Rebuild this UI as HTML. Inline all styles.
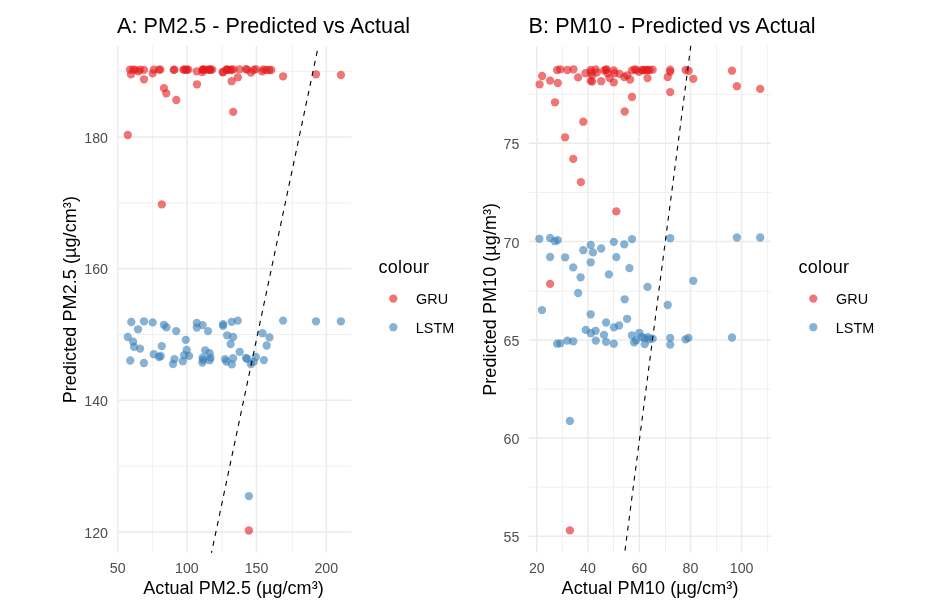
<!DOCTYPE html>
<html lang="en"><head><meta charset="utf-8"><title>Predicted vs Actual</title>
<style>html,body{margin:0;padding:0;background:#fff}svg{display:block}text{font-family:"Liberation Sans",Arial,Helvetica,sans-serif}</style>
</head><body>
<svg width="929" height="601" viewBox="0 0 929 601">
<rect width="929" height="601" fill="#ffffff"/>
<clipPath id="ca"><rect x="117.1" y="45.8" width="234.5" height="507.0"/></clipPath>
<g clip-path="url(#ca)" fill="none" stroke="#EBEBEB">
<line x1="117.1" x2="351.6" y1="71.3" y2="71.3" stroke-width="0.75"/>
<line x1="117.1" x2="351.6" y1="202.9" y2="202.9" stroke-width="0.75"/>
<line x1="117.1" x2="351.6" y1="334.5" y2="334.5" stroke-width="0.75"/>
<line x1="117.1" x2="351.6" y1="466.1" y2="466.1" stroke-width="0.75"/>
<line x1="152.4" x2="152.4" y1="45.8" y2="552.8" stroke-width="0.75"/>
<line x1="222.1" x2="222.1" y1="45.8" y2="552.8" stroke-width="0.75"/>
<line x1="292.4" x2="292.4" y1="45.8" y2="552.8" stroke-width="0.75"/>
<line x1="117.1" x2="351.6" y1="137.1" y2="137.1" stroke-width="1.5"/>
<line x1="117.1" x2="351.6" y1="268.7" y2="268.7" stroke-width="1.5"/>
<line x1="117.1" x2="351.6" y1="400.3" y2="400.3" stroke-width="1.5"/>
<line x1="117.1" x2="351.6" y1="531.9" y2="531.9" stroke-width="1.5"/>
<line x1="117.7" x2="117.7" y1="45.8" y2="552.8" stroke-width="1.5"/>
<line x1="186.9" x2="186.9" y1="45.8" y2="552.8" stroke-width="1.5"/>
<line x1="256.5" x2="256.5" y1="45.8" y2="552.8" stroke-width="1.5"/>
<line x1="326.3" x2="326.3" y1="45.8" y2="552.8" stroke-width="1.5"/>
</g>
<clipPath id="cb"><rect x="528.6" y="45.8" width="242.4" height="507.0"/></clipPath>
<g clip-path="url(#cb)" fill="none" stroke="#EBEBEB">
<line x1="528.6" x2="771.0" y1="94.3" y2="94.3" stroke-width="0.75"/>
<line x1="528.6" x2="771.0" y1="192.5" y2="192.5" stroke-width="0.75"/>
<line x1="528.6" x2="771.0" y1="291.2" y2="291.2" stroke-width="0.75"/>
<line x1="528.6" x2="771.0" y1="389.0" y2="389.0" stroke-width="0.75"/>
<line x1="528.6" x2="771.0" y1="487.2" y2="487.2" stroke-width="0.75"/>
<line x1="562.4" x2="562.4" y1="45.8" y2="552.8" stroke-width="0.75"/>
<line x1="613.5" x2="613.5" y1="45.8" y2="552.8" stroke-width="0.75"/>
<line x1="665.5" x2="665.5" y1="45.8" y2="552.8" stroke-width="0.75"/>
<line x1="716.5" x2="716.5" y1="45.8" y2="552.8" stroke-width="0.75"/>
<line x1="767.6" x2="767.6" y1="45.8" y2="552.8" stroke-width="0.75"/>
<line x1="528.6" x2="771.0" y1="143.3" y2="143.3" stroke-width="1.5"/>
<line x1="528.6" x2="771.0" y1="241.4" y2="241.4" stroke-width="1.5"/>
<line x1="528.6" x2="771.0" y1="340.0" y2="340.0" stroke-width="1.5"/>
<line x1="528.6" x2="771.0" y1="438.0" y2="438.0" stroke-width="1.5"/>
<line x1="528.6" x2="771.0" y1="536.3" y2="536.3" stroke-width="1.5"/>
<line x1="536.8" x2="536.8" y1="45.8" y2="552.8" stroke-width="1.5"/>
<line x1="588.0" x2="588.0" y1="45.8" y2="552.8" stroke-width="1.5"/>
<line x1="639.3" x2="639.3" y1="45.8" y2="552.8" stroke-width="1.5"/>
<line x1="690.5" x2="690.5" y1="45.8" y2="552.8" stroke-width="1.5"/>
<line x1="741.6" x2="741.6" y1="45.8" y2="552.8" stroke-width="1.5"/>
</g>
<g clip-path="url(#ca)" fill="#E41A1C" fill-opacity="0.6">
<circle cx="130.0" cy="69.6" r="4.15"/>
<circle cx="133.1" cy="69.6" r="4.15"/>
<circle cx="135.2" cy="69.8" r="4.15"/>
<circle cx="140.1" cy="69.6" r="4.15"/>
<circle cx="144.0" cy="69.9" r="4.15"/>
<circle cx="153.8" cy="69.6" r="4.15"/>
<circle cx="160.4" cy="69.6" r="4.15"/>
<circle cx="173.7" cy="69.9" r="4.15"/>
<circle cx="183.5" cy="69.6" r="4.15"/>
<circle cx="186.3" cy="69.8" r="4.15"/>
<circle cx="188.4" cy="69.6" r="4.15"/>
<circle cx="196.8" cy="71.3" r="4.15"/>
<circle cx="203.1" cy="69.6" r="4.15"/>
<circle cx="205.4" cy="69.6" r="4.15"/>
<circle cx="210.1" cy="69.6" r="4.15"/>
<circle cx="212.2" cy="69.6" r="4.15"/>
<circle cx="222.7" cy="72.0" r="4.15"/>
<circle cx="226.2" cy="69.6" r="4.15"/>
<circle cx="227.1" cy="69.7" r="4.15"/>
<circle cx="230.3" cy="69.7" r="4.15"/>
<circle cx="231.3" cy="70.0" r="4.15"/>
<circle cx="233.4" cy="69.3" r="4.15"/>
<circle cx="239.5" cy="69.4" r="4.15"/>
<circle cx="131.0" cy="74.4" r="4.15"/>
<circle cx="138.4" cy="71.3" r="4.15"/>
<circle cx="144.0" cy="79.3" r="4.15"/>
<circle cx="152.7" cy="73.4" r="4.15"/>
<circle cx="163.9" cy="88.1" r="4.15"/>
<circle cx="166.3" cy="93.3" r="4.15"/>
<circle cx="176.3" cy="100.0" r="4.15"/>
<circle cx="197.0" cy="84.3" r="4.15"/>
<circle cx="202.4" cy="72.0" r="4.15"/>
<circle cx="231.7" cy="81.2" r="4.15"/>
<circle cx="237.9" cy="77.3" r="4.15"/>
<circle cx="233.2" cy="111.9" r="4.15"/>
<circle cx="246.0" cy="69.1" r="4.15"/>
<circle cx="250.9" cy="72.5" r="4.15"/>
<circle cx="253.7" cy="70.0" r="4.15"/>
<circle cx="255.8" cy="69.1" r="4.15"/>
<circle cx="262.1" cy="71.4" r="4.15"/>
<circle cx="263.5" cy="69.4" r="4.15"/>
<circle cx="266.3" cy="70.0" r="4.15"/>
<circle cx="269.1" cy="70.0" r="4.15"/>
<circle cx="271.2" cy="70.0" r="4.15"/>
<circle cx="283.1" cy="76.3" r="4.15"/>
<circle cx="316.0" cy="74.3" r="4.15"/>
<circle cx="340.9" cy="75.0" r="4.15"/>
<circle cx="127.8" cy="135.0" r="4.15"/>
<circle cx="161.8" cy="204.4" r="4.15"/>
<circle cx="248.9" cy="530.5" r="4.15"/>
<circle cx="159.0" cy="69.6" r="4.15"/>
<circle cx="174.4" cy="69.6" r="4.15"/>
<circle cx="184.2" cy="69.6" r="4.15"/>
<circle cx="186.7" cy="69.6" r="4.15"/>
<circle cx="202.6" cy="69.6" r="4.15"/>
<circle cx="203.1" cy="69.6" r="4.15"/>
<circle cx="208.0" cy="69.6" r="4.15"/>
<circle cx="209.6" cy="69.6" r="4.15"/>
<circle cx="210.5" cy="69.6" r="4.15"/>
<circle cx="223.0" cy="72.2" r="4.15"/>
<circle cx="227.2" cy="69.6" r="4.15"/>
<circle cx="247.1" cy="69.6" r="4.15"/>
</g>
<g clip-path="url(#ca)" fill="#377EB8" fill-opacity="0.6">
<circle cx="131.3" cy="322.0" r="4.15"/>
<circle cx="144.0" cy="321.3" r="4.15"/>
<circle cx="152.7" cy="322.4" r="4.15"/>
<circle cx="138.0" cy="329.3" r="4.15"/>
<circle cx="163.9" cy="324.8" r="4.15"/>
<circle cx="166.4" cy="327.3" r="4.15"/>
<circle cx="176.2" cy="331.1" r="4.15"/>
<circle cx="196.8" cy="323.0" r="4.15"/>
<circle cx="196.8" cy="327.6" r="4.15"/>
<circle cx="202.6" cy="325.1" r="4.15"/>
<circle cx="208.0" cy="331.1" r="4.15"/>
<circle cx="223.1" cy="324.1" r="4.15"/>
<circle cx="223.1" cy="325.9" r="4.15"/>
<circle cx="231.7" cy="321.8" r="4.15"/>
<circle cx="237.7" cy="320.6" r="4.15"/>
<circle cx="127.8" cy="337.0" r="4.15"/>
<circle cx="133.1" cy="341.6" r="4.15"/>
<circle cx="134.1" cy="346.9" r="4.15"/>
<circle cx="140.1" cy="348.6" r="4.15"/>
<circle cx="161.8" cy="346.1" r="4.15"/>
<circle cx="185.8" cy="339.9" r="4.15"/>
<circle cx="227.2" cy="335.3" r="4.15"/>
<circle cx="233.1" cy="337.0" r="4.15"/>
<circle cx="230.6" cy="344.0" r="4.15"/>
<circle cx="239.7" cy="351.9" r="4.15"/>
<circle cx="153.8" cy="354.2" r="4.15"/>
<circle cx="159.0" cy="357.0" r="4.15"/>
<circle cx="160.7" cy="356.0" r="4.15"/>
<circle cx="130.3" cy="360.5" r="4.15"/>
<circle cx="143.9" cy="363.0" r="4.15"/>
<circle cx="174.4" cy="359.1" r="4.15"/>
<circle cx="173.0" cy="364.0" r="4.15"/>
<circle cx="182.8" cy="361.2" r="4.15"/>
<circle cx="184.2" cy="355.2" r="4.15"/>
<circle cx="186.7" cy="350.0" r="4.15"/>
<circle cx="189.1" cy="355.9" r="4.15"/>
<circle cx="205.2" cy="350.3" r="4.15"/>
<circle cx="209.6" cy="353.2" r="4.15"/>
<circle cx="202.6" cy="357.7" r="4.15"/>
<circle cx="203.1" cy="359.8" r="4.15"/>
<circle cx="202.4" cy="362.6" r="4.15"/>
<circle cx="210.5" cy="357.7" r="4.15"/>
<circle cx="209.6" cy="360.2" r="4.15"/>
<circle cx="225.0" cy="359.1" r="4.15"/>
<circle cx="226.4" cy="361.5" r="4.15"/>
<circle cx="233.1" cy="358.2" r="4.15"/>
<circle cx="231.8" cy="364.4" r="4.15"/>
<circle cx="283.1" cy="320.6" r="4.15"/>
<circle cx="316.0" cy="321.3" r="4.15"/>
<circle cx="340.9" cy="321.3" r="4.15"/>
<circle cx="262.5" cy="333.2" r="4.15"/>
<circle cx="269.5" cy="337.4" r="4.15"/>
<circle cx="266.7" cy="345.5" r="4.15"/>
<circle cx="246.0" cy="358.0" r="4.15"/>
<circle cx="247.1" cy="358.8" r="4.15"/>
<circle cx="255.8" cy="357.0" r="4.15"/>
<circle cx="253.7" cy="361.9" r="4.15"/>
<circle cx="250.9" cy="364.0" r="4.15"/>
<circle cx="263.9" cy="360.1" r="4.15"/>
<circle cx="248.9" cy="496.1" r="4.15"/>
</g>
<g clip-path="url(#cb)" fill="#E41A1C" fill-opacity="0.6">
<circle cx="539.6" cy="84.4" r="4.15"/>
<circle cx="542.1" cy="76.0" r="4.15"/>
<circle cx="550.1" cy="80.6" r="4.15"/>
<circle cx="557.8" cy="83.0" r="4.15"/>
<circle cx="557.1" cy="70.0" r="4.15"/>
<circle cx="560.3" cy="69.3" r="4.15"/>
<circle cx="567.3" cy="70.0" r="4.15"/>
<circle cx="573.5" cy="69.3" r="4.15"/>
<circle cx="578.1" cy="77.4" r="4.15"/>
<circle cx="585.5" cy="73.2" r="4.15"/>
<circle cx="590.7" cy="72.5" r="4.15"/>
<circle cx="592.1" cy="75.3" r="4.15"/>
<circle cx="590.7" cy="80.9" r="4.15"/>
<circle cx="592.1" cy="81.6" r="4.15"/>
<circle cx="595.6" cy="69.3" r="4.15"/>
<circle cx="596.7" cy="72.5" r="4.15"/>
<circle cx="601.2" cy="81.2" r="4.15"/>
<circle cx="604.0" cy="70.4" r="4.15"/>
<circle cx="606.5" cy="69.3" r="4.15"/>
<circle cx="607.5" cy="73.2" r="4.15"/>
<circle cx="609.6" cy="78.1" r="4.15"/>
<circle cx="613.8" cy="70.4" r="4.15"/>
<circle cx="614.5" cy="73.2" r="4.15"/>
<circle cx="613.8" cy="82.3" r="4.15"/>
<circle cx="619.6" cy="73.9" r="4.15"/>
<circle cx="624.3" cy="77.0" r="4.15"/>
<circle cx="627.1" cy="75.3" r="4.15"/>
<circle cx="630.1" cy="79.5" r="4.15"/>
<circle cx="632.0" cy="70.4" r="4.15"/>
<circle cx="634.8" cy="69.3" r="4.15"/>
<circle cx="639.0" cy="71.8" r="4.15"/>
<circle cx="643.2" cy="70.4" r="4.15"/>
<circle cx="646.5" cy="70.2" r="4.15"/>
<circle cx="649.6" cy="70.0" r="4.15"/>
<circle cx="652.7" cy="69.7" r="4.15"/>
<circle cx="647.5" cy="78.1" r="4.15"/>
<circle cx="555.0" cy="102.3" r="4.15"/>
<circle cx="632.0" cy="97.0" r="4.15"/>
<circle cx="624.7" cy="111.5" r="4.15"/>
<circle cx="583.3" cy="121.7" r="4.15"/>
<circle cx="670.2" cy="69.7" r="4.15"/>
<circle cx="670.2" cy="71.8" r="4.15"/>
<circle cx="667.7" cy="77.0" r="4.15"/>
<circle cx="670.2" cy="92.1" r="4.15"/>
<circle cx="685.6" cy="70.0" r="4.15"/>
<circle cx="688.7" cy="70.8" r="4.15"/>
<circle cx="693.3" cy="78.8" r="4.15"/>
<circle cx="732.0" cy="70.7" r="4.15"/>
<circle cx="736.9" cy="86.2" r="4.15"/>
<circle cx="760.2" cy="88.9" r="4.15"/>
<circle cx="565.1" cy="137.3" r="4.15"/>
<circle cx="573.2" cy="158.9" r="4.15"/>
<circle cx="580.9" cy="182.1" r="4.15"/>
<circle cx="616.3" cy="211.4" r="4.15"/>
<circle cx="550.1" cy="283.9" r="4.15"/>
<circle cx="569.9" cy="530.4" r="4.15"/>
<circle cx="590.7" cy="69.9" r="4.15"/>
<circle cx="606.1" cy="69.9" r="4.15"/>
<circle cx="636.2" cy="69.9" r="4.15"/>
<circle cx="641.7" cy="69.9" r="4.15"/>
<circle cx="644.7" cy="69.9" r="4.15"/>
<circle cx="648.0" cy="69.9" r="4.15"/>
</g>
<g clip-path="url(#cb)" fill="#377EB8" fill-opacity="0.6">
<circle cx="539.3" cy="238.8" r="4.15"/>
<circle cx="550.1" cy="238.0" r="4.15"/>
<circle cx="555.0" cy="241.2" r="4.15"/>
<circle cx="557.8" cy="240.1" r="4.15"/>
<circle cx="590.7" cy="245.0" r="4.15"/>
<circle cx="583.3" cy="250.2" r="4.15"/>
<circle cx="593.0" cy="252.4" r="4.15"/>
<circle cx="601.2" cy="248.5" r="4.15"/>
<circle cx="613.8" cy="241.9" r="4.15"/>
<circle cx="624.3" cy="244.3" r="4.15"/>
<circle cx="632.0" cy="239.1" r="4.15"/>
<circle cx="550.1" cy="257.0" r="4.15"/>
<circle cx="565.1" cy="257.3" r="4.15"/>
<circle cx="616.3" cy="257.1" r="4.15"/>
<circle cx="590.7" cy="262.3" r="4.15"/>
<circle cx="573.2" cy="267.4" r="4.15"/>
<circle cx="580.6" cy="277.3" r="4.15"/>
<circle cx="608.9" cy="274.4" r="4.15"/>
<circle cx="629.4" cy="268.1" r="4.15"/>
<circle cx="647.5" cy="286.9" r="4.15"/>
<circle cx="578.1" cy="293.0" r="4.15"/>
<circle cx="624.7" cy="299.3" r="4.15"/>
<circle cx="542.0" cy="310.1" r="4.15"/>
<circle cx="590.7" cy="314.3" r="4.15"/>
<circle cx="627.1" cy="318.8" r="4.15"/>
<circle cx="606.1" cy="322.5" r="4.15"/>
<circle cx="619.1" cy="325.5" r="4.15"/>
<circle cx="613.9" cy="327.3" r="4.15"/>
<circle cx="585.8" cy="329.9" r="4.15"/>
<circle cx="595.6" cy="330.8" r="4.15"/>
<circle cx="590.9" cy="333.2" r="4.15"/>
<circle cx="604.0" cy="334.9" r="4.15"/>
<circle cx="557.1" cy="343.7" r="4.15"/>
<circle cx="560.3" cy="343.3" r="4.15"/>
<circle cx="567.3" cy="340.6" r="4.15"/>
<circle cx="573.2" cy="341.3" r="4.15"/>
<circle cx="595.8" cy="340.6" r="4.15"/>
<circle cx="606.1" cy="341.9" r="4.15"/>
<circle cx="613.8" cy="343.7" r="4.15"/>
<circle cx="632.0" cy="335.3" r="4.15"/>
<circle cx="639.4" cy="332.8" r="4.15"/>
<circle cx="634.1" cy="342.3" r="4.15"/>
<circle cx="636.2" cy="340.2" r="4.15"/>
<circle cx="641.7" cy="337.0" r="4.15"/>
<circle cx="644.5" cy="338.1" r="4.15"/>
<circle cx="648.0" cy="337.1" r="4.15"/>
<circle cx="644.7" cy="344.1" r="4.15"/>
<circle cx="649.2" cy="339.3" r="4.15"/>
<circle cx="652.7" cy="338.6" r="4.15"/>
<circle cx="670.2" cy="238.2" r="4.15"/>
<circle cx="736.9" cy="237.5" r="4.15"/>
<circle cx="760.2" cy="237.5" r="4.15"/>
<circle cx="693.3" cy="280.8" r="4.15"/>
<circle cx="667.7" cy="305.0" r="4.15"/>
<circle cx="670.2" cy="337.9" r="4.15"/>
<circle cx="670.2" cy="344.6" r="4.15"/>
<circle cx="685.6" cy="339.3" r="4.15"/>
<circle cx="688.4" cy="337.9" r="4.15"/>
<circle cx="732.0" cy="337.5" r="4.15"/>
<circle cx="569.9" cy="421.0" r="4.15"/>
</g>
<g fill="none" stroke="#000" stroke-width="1.1">
<line x1="318.4" y1="45.8" x2="211.5" y2="552.8" stroke-dasharray="5.1 5.12" stroke-dashoffset="5.1"/>
<line x1="690.8" y1="45.8" x2="624.7" y2="552.8" stroke-dasharray="5 5.085" stroke-dashoffset="0.1"/>
</g>
<g font-size="21.6px" fill="#000">
<text x="117.1" y="32.7" textLength="292.9">A: PM2.5 - Predicted vs Actual</text>
<text x="528.6" y="32.7" textLength="286.9">B: PM10 - Predicted vs Actual</text>
</g>
<g font-size="14.2px" fill="#4D4D4D" text-anchor="middle">
<text x="117.7" y="573.0">50</text>
<text x="186.9" y="573.0">100</text>
<text x="256.5" y="573.0">150</text>
<text x="326.3" y="573.0">200</text>
<text x="536.8" y="573.0">20</text>
<text x="588.0" y="573.0">40</text>
<text x="639.3" y="573.0">60</text>
<text x="690.5" y="573.0">80</text>
<text x="741.6" y="573.0">100</text>
</g>
<g font-size="14.2px" fill="#4D4D4D" text-anchor="end">
<text x="108.0" y="142.7">180</text>
<text x="108.0" y="274.3">160</text>
<text x="108.0" y="405.9">140</text>
<text x="108.0" y="537.5">120</text>
<text x="519.3" y="149.4">75</text>
<text x="519.3" y="247.5">70</text>
<text x="519.3" y="346.1">65</text>
<text x="519.3" y="444.1">60</text>
<text x="519.3" y="542.4">55</text>
</g>
<g font-size="18px" fill="#000" text-anchor="middle">
<text x="233.5" y="594.2" textLength="180.4">Actual PM2.5 (µg/cm³)</text>
<text x="650.0" y="594.2" textLength="176.9">Actual PM10 (µg/cm³)</text>
<text transform="translate(76.3 299.7) rotate(-90)" textLength="207.2">Predicted PM2.5 (µg/cm³)</text>
<text transform="translate(495.9 299.35) rotate(-90)" textLength="192.9">Predicted PM10 (µg/m³)</text>
</g>
<text x="378.5" y="273.0" font-size="18px" fill="#000" textLength="50.5">colour</text>
<circle cx="393.3" cy="298.6" r="4.15" fill="#E41A1C" fill-opacity="0.6"/>
<circle cx="393.3" cy="327.2" r="4.15" fill="#377EB8" fill-opacity="0.6"/>
<text x="416.1" y="303.8" font-size="14.4px" fill="#000">GRU</text>
<text x="415.8" y="332.5" font-size="14.4px" fill="#000">LSTM</text>
<text x="798.5" y="273.0" font-size="18px" fill="#000" textLength="50.5">colour</text>
<circle cx="813.3" cy="298.6" r="4.15" fill="#E41A1C" fill-opacity="0.6"/>
<circle cx="813.3" cy="327.2" r="4.15" fill="#377EB8" fill-opacity="0.6"/>
<text x="836.1" y="303.8" font-size="14.4px" fill="#000">GRU</text>
<text x="835.8" y="332.5" font-size="14.4px" fill="#000">LSTM</text>
</svg></body></html>
